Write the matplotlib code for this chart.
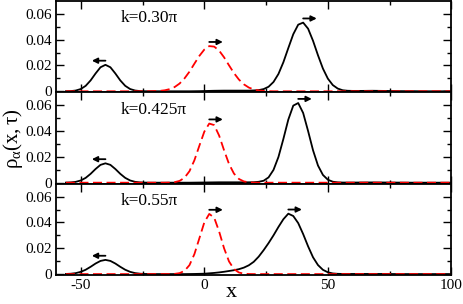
import matplotlib
matplotlib.use("Agg")
import matplotlib.pyplot as plt
import numpy as np

plt.rcParams['font.family'] = ['Liberation Serif', 'DejaVu Serif']
plt.rcParams['mathtext.fontset'] = 'custom'
plt.rcParams['mathtext.rm'] = 'Liberation Serif'
plt.rcParams['mathtext.it'] = 'Liberation Serif'

# sampling positions (x)
x = [-56, -54, -52, -50, -48, -46, -44, -42, -40, -38,
     -36, -34, -32, -30, -28, -26, -24, -22, -20, -18,
     -16, -14, -12, -10, -8, -6, -4, -2, 0, 2,
     4, 6, 8, 10, 12, 14, 16, 18, 20, 22,
     24, 26, 28, 30, 32, 34, 36, 38, 40, 42,
     44, 46, 48, 50, 52, 54, 56, 58, 60,
     64, 68, 72, 76, 80, 84, 88, 92, 96, 100]

# densities in units of 1e-3
black_030 = [0.04, 0.16, 0.59, 1.73, 4.22, 8.43, 13.8, 18.6, 20.5, 18.6,
             13.8, 8.43, 4.22, 1.73, 0.59, 0.16, 0.04, 0, 0, 0,
             0, 0, 0, 0, 0, 0, 0.05, 0.1, 0.2, 0.3,
             0.4, 0.45, 0.5, 0.5, 0.5, 0.5, 0.5, 0.5, 0.65, 0.9,
             1.7, 3.5, 7.2, 13.4, 22.5, 33.5, 44.2, 51.6, 53.2, 48.5,
             39.1, 27.9, 17.6, 9.8, 4.8, 2.1, 0.8, 0.4, 0.3,
             0.3, 0.4, 0.3, 0.2, 0.1, 0.1, 0, 0, 0, 0]
red_030 = [0, 0, 0, 0, 0, 0, 0, 0, 0, 0,
           0, 0, 0, 0, 0, 0, 0, 0, 0.13, 0.33,
           0.77, 1.67, 3.29, 5.99, 10.0, 15.2, 21.4, 27.4, 32.3, 35.0,
           34.6, 31.5, 26.3, 20.1, 14.1, 9.1, 5.4, 2.9, 1.43, 0.65,
           0.27, 0.1, 0, 0, 0, 0, 0, 0, 0, 0,
           0, 0, 0, 0, 0, 0, 0, 0, 0,
           0, 0, 0, 0, 0, 0, 0, 0, 0, 0]

black_0425 = [0.06, 0.21, 0.66, 1.71, 3.73, 6.86, 10.6, 13.8, 15.0, 13.8,
              10.6, 6.86, 3.73, 1.71, 0.66, 0.21, 0.06, 0, 0, 0,
              0, 0, 0, 0, 0, 0, 0.05, 0.1, 0.15, 0.2,
              0.25, 0.3, 0.3, 0.3, 0.3, 0.3, 0.3, 0.3, 0.35, 0.7,
              1.5, 4.1, 9.9, 19.9, 33.9, 48.9, 59.7, 61.7, 54.0, 40.0,
              25.1, 13.3, 6.0, 2.3, 0.75, 0.25, 0.1, 0.1, 0.1,
              0.15, 0.2, 0.15, 0.1, 0.05, 0, 0, 0, 0, 0]
red_0425 = [0, 0, 0, 0, 0, 0, 0, 0, 0, 0,
            0, 0, 0, 0, 0, 0, 0, 0, 0, 0,
            0, 0.11, 0.42, 1.38, 3.84, 8.9, 17.4, 28.6, 39.5, 45.8,
            44.6, 36.5, 25.1, 14.5, 7.05, 2.88, 0.99, 0.29, 0.07, 0,
            0, 0, 0, 0, 0, 0, 0, 0, 0, 0,
            0, 0, 0, 0, 0, 0, 0, 0, 0,
            0, 0, 0, 0, 0, 0, 0, 0, 0, 0]

black_055 = [0.1, 0.29, 0.76, 1.73, 3.36, 5.65, 8.18, 10.2, 11.0, 10.2,
             8.18, 5.65, 3.36, 1.73, 0.76, 0.29, 0.1, 0.03, 0, 0,
             0, 0, 0, 0, 0, 0.05, 0.1, 0.2, 0.3, 0.6,
             0.9, 1.3, 1.8, 2.4, 3.0, 3.8, 5.0, 6.8, 9.5, 13.5,
             18.5, 24.0, 30.0, 36.5, 42.5, 46.8, 45.0, 39.5, 31.0, 21.5,
             13.0, 7.0, 3.3, 1.4, 0.5, 0.2, 0.1, 0.1, 0.1,
             0.1, 0.1, 0.1, 0.05, 0, 0, 0, 0, 0, 0]
red_055 = [0, 0, 0, 0, 0, 0, 0, 0, 0, 0,
           0, 0, 0, 0, 0, 0, 0, 0, 0, 0,
           0, 0, 0.17, 0.73, 2.52, 6.93, 15.5, 27.7, 40.0, 46.6,
           43.7, 33.0, 20.0, 9.8, 3.88, 1.23, 0.31, 0.07, 0, 0,
           0, 0, 0, 0, 0, 0, 0, 0, 0, 0,
           0, 0, 0, 0, 0, 0, 0, 0, 0,
           0, 0, 0, 0, 0, 0, 0, 0, 0, 0]

labels = ['k=0.30\u03c0', 'k=0.425\u03c0', 'k=0.55\u03c0']
blacks = [black_030, black_0425, black_055]
reds = [red_030, red_0425, red_055]


def arrow(ax, xp, yp, direction):
    ax.annotate('', xy=(xp + direction * 5.5, yp + 0.0032), xytext=(xp, yp + 0.0032),
                arrowprops=dict(arrowstyle='-|>', color='k', lw=1.3,
                                mutation_scale=8, shrinkA=0, shrinkB=0))


fig, axes = plt.subplots(3, 1, sharex=True, figsize=(4.63, 3.04), dpi=100)
fig.subplots_adjust(left=0.121, right=0.975, bottom=0.095, top=0.997, hspace=0)

xa = np.array(x)
for ax, lab, b, r in zip(axes, labels, blacks, reds):
    b = np.array(b) * 1e-3
    r = np.array(r) * 1e-3
    ax.plot(xa, b, color='black', lw=1.3)
    ax.plot(xa, r, color='#ff0000', lw=1.3, dashes=(5, 2.5))

    # arrows above each packet
    left = xa < -20
    right = xa > 20
    i = np.argmax(b[left]); arrow(ax, xa[left][i], b[left][i], -1)
    i = np.argmax(r); arrow(ax, xa[i], r[i], 1)
    i = np.argmax(b[right]); arrow(ax, xa[right][i], b[right][i], 1)

    ax.text(-34, 0.0565, lab, fontsize=12.5, va='center')
    ax.set_xlim(-60, 100)
    ax.set_ylim(-0.0008, 0.07)
    ax.set_yticks([0, 0.02, 0.04, 0.06])
    ax.set_yticklabels(['0', '0.02', '0.04', '0.06'])
    ax.set_yticks([0.01, 0.03, 0.05], minor=True)
    ax.set_xticks([-50, 0, 50, 100])
    ax.set_xticks([-25, 25, 75], minor=True)
    ax.tick_params(which='both', direction='in', top=True, right=True,
                   labelsize=11, width=1.0)
    ax.tick_params(which='major', length=6, pad=3)
    ax.tick_params(which='minor', length=3)
    for s in ax.spines.values():
        s.set_linewidth(1.3)

axes[-1].set_xticklabels(['-50', '0', '50', '100'])
fig.text(0.5, 0.005, 'x', fontsize=16, ha='center', va='bottom')
fig.text(0.028, 0.545, r'$\rho_\alpha(x,\tau)$', fontsize=15, rotation=90,
         ha='center', va='center')

fig.savefig('out.png', dpi=100)
